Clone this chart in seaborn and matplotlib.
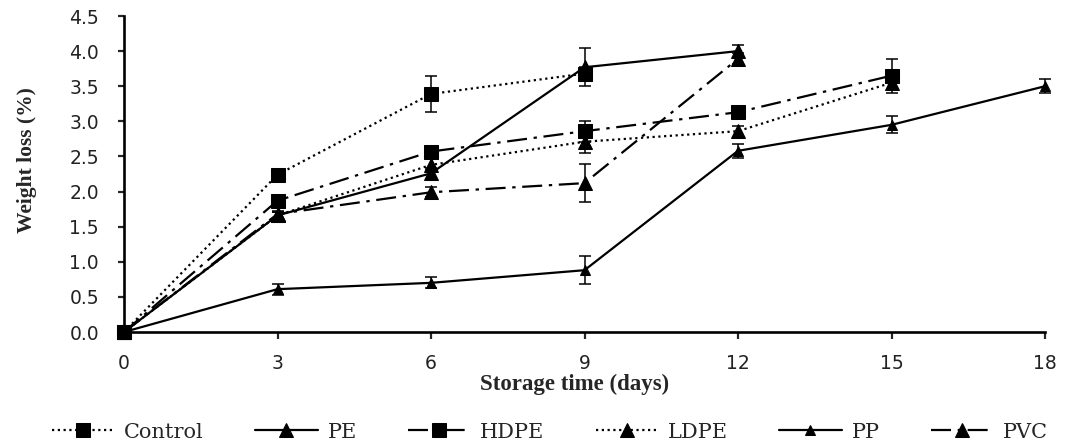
import numpy as np
import pandas as pd
import matplotlib
matplotlib.use("Agg")
import matplotlib.pyplot as plt
import seaborn as sns

# ---- data ----
days = [0, 3, 6, 9, 12, 15, 18]
series_names = ["Control", "PE", "HDPE", "LDPE", "PP", "PVC"]

control = [0.0, 2.24, 3.39, 3.68]
control_err = [0.0, 0.08, 0.26, 0.10]
pe = [0.0, 1.66, 2.26, 3.77, 4.00]
pe_err = [0.0, 0.05, 0.08, 0.27, 0.08]
hdpe = [0.0, 1.87, 2.57, 2.86, 3.13, 3.65]
hdpe_err = [0.0, 0.05, 0.05, 0.15, 0.05, 0.24]
ldpe = [0.0, 1.66, 2.38, 2.71, 2.86, 3.55]
ldpe_err = [0.0, 0.05, 0.08, 0.16, 0.08, 0.10]
pp = [0.0, 0.61, 0.70, 0.88, 2.58, 2.95, 3.50]
pp_err = [0.0, 0.08, 0.08, 0.20, 0.10, 0.12, 0.10]
pvc = [0.0, 1.68, 1.99, 2.12, 3.89]
pvc_err = [0.0, 0.05, 0.07, 0.27, 0.08]

y_ticks = [0.0, 0.5, 1.0, 1.5, 2.0, 2.5, 3.0, 3.5, 4.0, 4.5]
x_ticks = [0, 3, 6, 9, 12, 15, 18]

values = [control, pe, hdpe, ldpe, pp, pvc]
errors = [control_err, pe_err, hdpe_err, ldpe_err, pp_err, pvc_err]

dotted = (0, (1, 1.6))
dashdot = (0, (9, 3, 1.5, 3))
styles = {
    "Control": dict(linestyle=dotted, marker="s", markersize=9.5),
    "PE": dict(linestyle="-", marker="^", markersize=10),
    "HDPE": dict(linestyle=dashdot, marker="s", markersize=10.5),
    "LDPE": dict(linestyle=dotted, marker="^", markersize=10),
    "PP": dict(linestyle="-", marker="^", markersize=7),
    "PVC": dict(linestyle=dashdot, marker="^", markersize=10),
}

sns.set_style("white")
plt.rcParams["font.family"] = ["DejaVu Sans"]

fig = plt.figure(figsize=(10.65, 4.47), dpi=100)
ax = fig.add_axes([124 / 1065, 1 - 332 / 447, (1045 - 124) / 1065, (332 - 16) / 447])

for name, vals, errs in zip(series_names, values, errors):
    x = days[:len(vals)]
    st = styles[name]
    ax.errorbar(x, vals, yerr=errs, fmt="none", ecolor="black", elinewidth=1.1,
                capsize=4, capthick=1.1, zorder=2, clip_on=False)
    sns.lineplot(x=x, y=vals, ax=ax, color="black", linewidth=1.6,
                 linestyle=st["linestyle"], marker=st["marker"],
                 markersize=st["markersize"], markeredgecolor="black",
                 markerfacecolor="black", label=name, clip_on=False, zorder=3)

ax.set_xlim(0, 18)
ax.set_ylim(0, 4.5)
ax.set_xticks(x_ticks)
ax.set_xticklabels([str(v) for v in x_ticks])
ax.set_yticks(y_ticks)
ax.set_yticklabels([f"{v:.1f}" for v in y_ticks])
sns.despine(ax=ax)
for s in ["left", "bottom"]:
    ax.spines[s].set_linewidth(1.9)
    ax.spines[s].set_color("black")

ax.tick_params(axis="x", direction="out", length=5, width=1.6, pad=10.5,
               labelsize=13.5, labelcolor="#222222", bottom=True)
ax.tick_params(axis="y", direction="out", length=4, width=1.6, pad=14,
               labelsize=13.5, labelcolor="#222222", left=True)

ax.set_xlabel("Storage time (days)", fontfamily="Liberation Serif",
              fontweight="bold", fontsize=16.5)
ax.xaxis.set_label_coords((575 - 124) / 921, -(374 - 332) / 316)
ax.set_ylabel("Weight loss (%)", fontfamily="Liberation Serif",
              fontweight="bold", fontsize=15.5)
ax.yaxis.set_label_coords((37 - 124) / 921, (332 - 160) / 316)

handles, labels = ax.get_legend_handles_labels()
if ax.get_legend() is not None:
    ax.get_legend().remove()
fig.legend(handles, labels, loc="center", ncol=6,
           bbox_to_anchor=(550 / 1065, 1 - 432 / 447), frameon=False,
           prop={"family": "DejaVu Serif", "size": 15},
           handlelength=3.0, handletextpad=0.48, columnspacing=2.45)

fig.savefig("out.png", dpi=100)
